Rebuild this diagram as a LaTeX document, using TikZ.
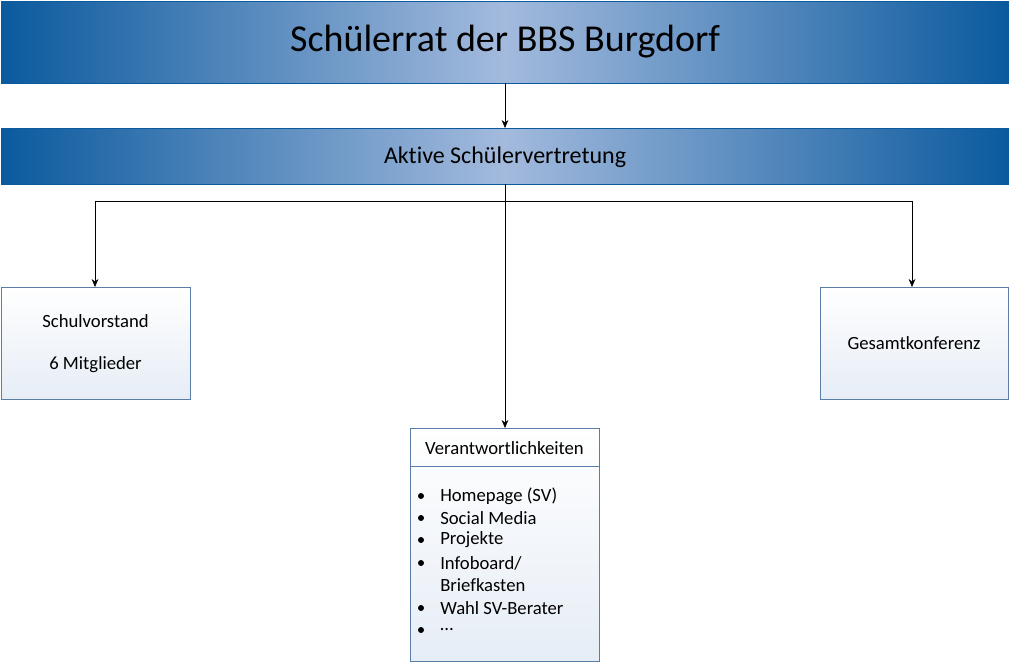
\documentclass[tikz,border=0pt]{standalone}
\usepackage{fontspec}
\setmainfont{Carlito}[Ligatures=NoCommon]
\usetikzlibrary{arrows.meta}
\definecolor{dk}{HTML}{0B5A9E}
\definecolor{lt}{HTML}{A3BADD}
\definecolor{bd}{HTML}{5A7DA8}
\definecolor{bx}{HTML}{E6EDF6}
\tikzset{
  bar/.style={draw=dk, left color=dk, right color=dk, middle color=lt},
  box/.style={draw=bd, top color=white, bottom color=bx},
  conn/.style={draw=black, -{Stealth[length=6pt,width=5pt]}},
  txt/.style={font=\fontsize{14pt}{16pt}\selectfont, inner sep=0pt}
}
\begin{document}
\begin{tikzpicture}[x=0.75pt,y=-0.75pt]
\useasboundingbox (0,0) rectangle (1010,662);
\path[bar] (1,1) rectangle (1008,83);
\node[font=\fontsize{28.5pt}{32pt}\selectfont] (t) at (505,42) {Schülerrat der BBS Burgdorf};
\path[bar] (1,128) rectangle (1008,184);
\node[font=\fontsize{18pt}{20pt}\selectfont] (a) at (505,157) {Aktive Schülervertretung};
\coordinate (tb) at (505,83); \coordinate (at) at (505,128);
\draw[conn] (tb) -- (at);
\path[box] (1,287) rectangle (190,399);
\node[txt] (s1) at (95.5,321) {Schulvorstand};
\node[txt] (s2) at (95.5,365) {6 Mitglieder};
\path[box] (820,287) rectangle (1008,399);
\node[txt] (g) at (914,343) {Gesamtkonferenz};
\path[box] (410,428) rectangle (599,661);
\draw[bd] (410,466) -- (599,466);
\node[txt] (v) at (504.5,448) {Verantwortlichkeiten};
\coordinate (ab) at (505,184); \coordinate (vt) at (505,428);
\coordinate (hl) at (95,201); \coordinate (hr) at (912,201);
\coordinate (st) at (95,287); \coordinate (gt) at (912,287);
\draw (hl) -- (hr);
\draw[conn] (ab) -- (vt);
\draw[conn] (hl) -- (st);
\draw[conn] (hr) -- (gt);
\foreach \y/\t [count=\i] in {496/{Homepage (SV)},518/{Social Media},540/{Projekte},563/{Infoboard/},608/{Wahl SV-Berater},630/{…}}{
  \fill (421,\y) circle (3);
  \node[txt, anchor=west] (l\i) at (440,\y) {\t};
}
\node[txt, anchor=west] (l7) at (440,585) {Briefkasten};
\end{tikzpicture}
\end{document}
